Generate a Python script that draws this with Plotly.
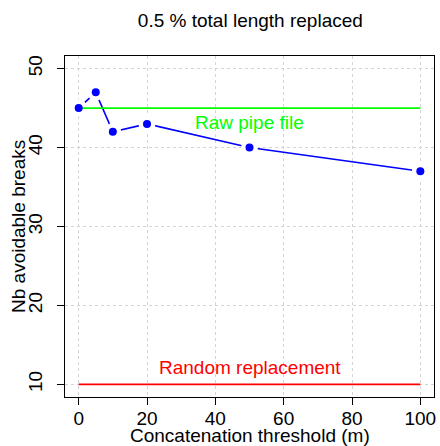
import plotly.graph_objects as go

thresholds = [0, 5, 10, 20, 50, 100]
avoidable = [45, 47, 42, 43, 40, 37]
raw_x = [0, 100]
raw_y = [45, 45]
rand_x = [0, 100]
rand_y = [10, 10]
x_ticks = [0, 20, 40, 60, 80, 100]
y_ticks = [10, 20, 30, 40, 50]

FONT = "Liberation Sans, Arial, sans-serif"
FS = 19

fig = go.Figure()
# blue connecting line
fig.add_trace(go.Scatter(x=thresholds, y=avoidable, mode="lines",
                         line=dict(color="#0000FF", width=1.6), hoverinfo="skip"))
# white gaps around points (R type="b")
fig.add_trace(go.Scatter(x=thresholds, y=avoidable, mode="markers",
                         marker=dict(color="white", size=17, line=dict(width=0)), hoverinfo="skip"))
# reference lines
fig.add_trace(go.Scatter(x=raw_x, y=raw_y, mode="lines",
                         line=dict(color="#00FF00", width=1.8)))
fig.add_trace(go.Scatter(x=rand_x, y=rand_y, mode="lines",
                         line=dict(color="#FF0000", width=1.6)))
# blue points
fig.add_trace(go.Scatter(x=thresholds, y=avoidable, mode="markers",
                         marker=dict(color="#0000FF", size=8, line=dict(width=0))))

fig.add_annotation(x=50, y=43.15, text="Raw pipe file", showarrow=False,
                   font=dict(family=FONT, size=FS, color="#00FF00"))
fig.add_annotation(x=50, y=12.15, text="Random replacement", showarrow=False,
                   font=dict(family=FONT, size=FS, color="#FF0000"))

# axis titles
fig.add_annotation(xref="paper", yref="paper", x=0.5, y=0, yanchor="bottom", yshift=-50,
                   text="Concatenation threshold (m)", showarrow=False, borderpad=0,
                   font=dict(family=FONT, size=FS, color="black"))
fig.add_annotation(xref="paper", yref="paper", x=0, y=0.5, xanchor="right", xshift=-34,
                   text="Nb avoidable breaks", textangle=-90, showarrow=False,
                   font=dict(family=FONT, size=FS, color="black"))

fig.update_layout(
    width=440, height=446,
    margin=dict(l=65, r=4, t=56, b=49),
    paper_bgcolor="white", plot_bgcolor="white",
    showlegend=False,
    font=dict(family=FONT, size=FS, color="black"),
    title=dict(text="0.5 % total length replaced", x=0.569, xanchor="center",
               yref="container", y=1 - 20 / 446, yanchor="middle",
               font=dict(family=FONT, size=FS, color="black")),
)
fig.update_xaxes(range=[-4, 104], tickvals=x_ticks, ticktext=[str(v) for v in x_ticks],
                 ticks="outside", ticklen=7, tickcolor="black", tickwidth=1,
                 ticklabelstandoff=-3,
                 showline=True, mirror=True, linecolor="black", linewidth=1,
                 showgrid=True, gridcolor="#D3D3D3", griddash="dot", gridwidth=1,
                 zeroline=False, tickfont=dict(family=FONT, size=FS, color="black"))
fig.update_yaxes(range=[8.4, 51.6], tickvals=y_ticks, ticktext=[str(v) for v in y_ticks],
                 ticks="outside", ticklen=7, tickcolor="black", tickwidth=1,
                 tickangle=-90, ticklabelstandoff=7,
                 showline=True, mirror=True, linecolor="black", linewidth=1,
                 showgrid=True, gridcolor="#D3D3D3", griddash="dot", gridwidth=1,
                 zeroline=False, tickfont=dict(family=FONT, size=FS, color="black"))

fig.write_html("out.html")
